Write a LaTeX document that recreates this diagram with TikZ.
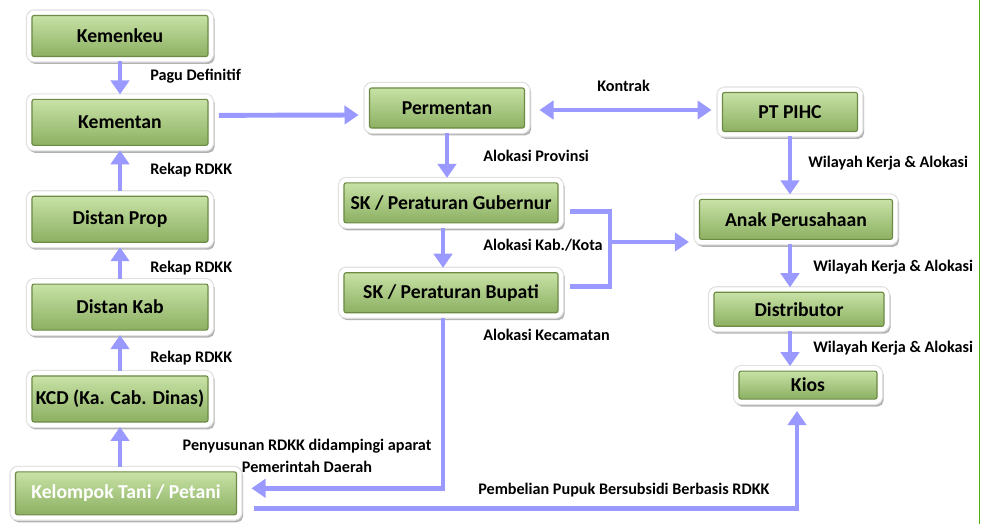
\documentclass[tikz,border=0pt]{standalone}
\usepackage{fontspec}
\setmainfont{Carlito}
\usepackage{tikz}
\usetikzlibrary{arrows.meta,positioning,calc,shadows}
\definecolor{boxtop}{RGB}{200,226,166}
\definecolor{boxmid}{RGB}{170,204,130}
\definecolor{boxbot}{RGB}{140,176,98}
\definecolor{boxedge}{RGB}{108,138,68}
\definecolor{flowblue}{RGB}{153,153,255}
\definecolor{rimgreen}{RGB}{80,170,20}

\begin{document}
\begin{tikzpicture}[x=0.025cm,y=-0.025cm]
  \tikzstyle{unit}=[rectangle,draw=boxedge,line width=0.8pt,top color=boxtop,middle color=boxmid,bottom color=boxbot,rounded corners=1.5pt,inner sep=0pt,outer sep=3.5pt,minimum width=4.4cm,minimum height=1.15cm,font=\fontsize{14}{16}\selectfont\bfseries,drop shadow={shadow xshift=1.2pt,shadow yshift=-1.8pt,opacity=0.3,fill=black,draw=black,line width=7pt},preaction={draw=black!12,line width=8.6pt,line join=round},preaction={draw=white,line width=7pt,line join=round}]
  \tikzstyle{note}=[font=\fontsize{11.5}{15.6}\selectfont\bfseries,inner sep=0pt,anchor=west]
  \tikzstyle{flow}=[draw=flowblue,line width=3.5pt,-{Triangle[width=13pt,length=10pt]}]
  \tikzstyle{link}=[draw=flowblue,line width=3.5pt]

  \useasboundingbox (0,0) rectangle (981,524);
  \draw[rimgreen,line width=1.4pt] (979.5,0) -- (979.5,524);

  % left column
  \node[unit,minimum height=1.025cm] (kemenkeu) at (120,36) {Kemenkeu};
  \node[unit,below=0.825cm of kemenkeu] (kementan) {Kementan};
  \node[unit,below=1.025cm of kementan] (distprop) {Distan Prop};
  \node[unit,below=0.8cm of distprop] (distkab) {Distan Kab};
  \node[unit,below=0.9cm of distkab] (kcd) {KCD (Ka. Cab. Dinas)};
  \node[unit,text=white,minimum width=5.525cm,minimum height=1.075cm,below=1.0cm of kcd,xshift=0.15cm] (petani) {Kelompok Tani / Petani};

  % middle column
  \node[unit,minimum width=3.875cm,minimum height=1cm] (permentan) at (447,108) {Permentan};
  \node[unit,minimum width=5.35cm,minimum height=1cm,below=1.125cm of permentan,xshift=0.1cm] (skgub) {SK / Peraturan Gubernur};
  \node[unit,minimum width=5.35cm,minimum height=1cm,below=1cm of skgub] (skbup) {SK / Peraturan Bupati};

  % right column
  \node[unit,minimum width=3.375cm,minimum height=0.975cm] (pihc) at (790,112) {PT PIHC};
  \node[unit,minimum width=4.825cm,minimum height=1cm,below=1.45cm of pihc,xshift=0.15cm] (anak) {Anak Perusahaan};
  \node[unit,minimum width=4.25cm,minimum height=0.85cm,below=1.075cm of anak,xshift=0.075cm] (distributor) {Distributor};
  \node[unit,minimum width=3.45cm,minimum height=0.7cm,below=0.875cm of distributor,xshift=0.225cm] (kios) {Kios};

  % labels
  \node[note] (lpagu) at (150,76) {Pagu Definitif};
  \node[note] (lrekap1) at (150,170) {Rekap RDKK};
  \node[note] (lrekap2) at (150,268) {Rekap RDKK};
  \node[note] (lrekap3) at (150,358) {Rekap RDKK};
  \node[note] (lprov) at (483,156) {Alokasi Provinsi};
  \node[note] (lkab) at (483,245) {Alokasi Kab./Kota};
  \node[note] (lkec) at (483,335) {Alokasi Kecamatan};
  \node[note] (lkontrak) at (597,86) {Kontrak};
  \node[note] (lwil1) at (808,163) {Wilayah Kerja \& Alokasi};
  \node[note] (lwil2) at (813,267) {Wilayah Kerja \& Alokasi};
  \node[note] (lwil3) at (813,348) {Wilayah Kerja \& Alokasi};
  \node[note,anchor=center,align=center] (lsusun) at (307,456) {Penyusunan RDKK didampingi aparat\\Pemerintah Daerah};
  \node[note] (lbeli) at (478,490) {Pembelian Pupuk Bersubsidi Berbasis RDKK};

  % arrows
  \draw[flow] (kemenkeu) -- (kementan);
  \draw[flow] (distprop) -- (kementan);
  \draw[flow] (distkab) -- (distprop);
  \draw[flow] (kcd) -- (distkab);
  \draw[flow] (petani.north -| kcd) -- (kcd);
  \draw[flow] ($(kementan.east)+(6,-7)$) -- ($(permentan.west)+(-6,7)$);
  \draw[flow,{Triangle[width=13pt,length=10pt]}-{Triangle[width=13pt,length=10pt]}] ($(permentan.east)+(10,2)$) -- ($(pihc.west)+(-6,-2)$);
  \draw[flow] (permentan) -- (skgub.north -| permentan);
  \draw[flow] ($(skgub.south)+(-8,0)$) -- ($(skbup.north)+(-8,0)$);
  \coordinate (fork) at (610,242);
  \draw[link] ($(skgub.east)+(7,9)$) -| (fork) |- ($(skbup.east)+(7,-6)$);
  \draw[flow,shorten >=4pt] (fork) -- (fork -| anak.west);
  \draw[flow] ($(skbup.south)+(-8,0)$) |- ($(petani.east)+(10,-5)$);
  \draw[flow] ($(petani.east)+(13,15)$) -| ($(kios.south)+(-11,7)$);
  \draw[flow] (pihc) -- (anak.north -| pihc);
  \draw[flow] (anak.south -| pihc) -- (distributor.north -| pihc);
  \draw[flow] (distributor.south -| pihc) -- (kios.north -| pihc);
\end{tikzpicture}
\end{document}
